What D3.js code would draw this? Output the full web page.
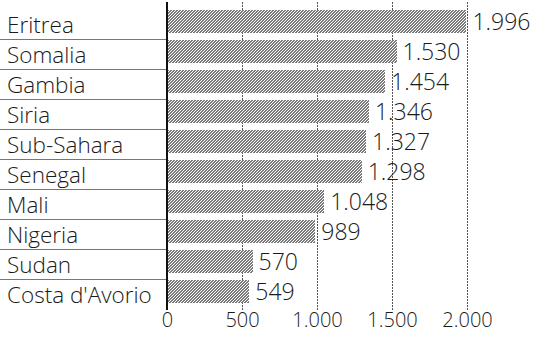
<!DOCTYPE html>
<html>
<head>
<meta charset="utf-8">
<script src="https://cdn.jsdelivr.net/npm/d3@7"></script>
<style>
  html, body { margin: 0; padding: 0; background: #fff; }
  svg { display: block; }
  text { font-family: "Open Sans", sans-serif; font-weight: 300; fill: #1a1a1a; }
</style>
</head>
<body>
<svg id="chart" width="534" height="337"></svg>
<script>
// Countries and values
const categories = ["Eritrea", "Somalia", "Gambia", "Siria", "Sub-Sahara", "Senegal", "Mali", "Nigeria", "Sudan", "Costa d'Avorio"];
const values = [1996, 1530, 1454, 1346, 1327, 1298, 1048, 989, 570, 549];
const tickValues = [0, 500, 1000, 1500, 2000];

const svg = d3.select("#chart");

// Italian number format (dot as thousands separator)
const it = d3.formatLocale({ decimal: ",", thousands: ".", grouping: [3], currency: ["€", ""] });
const fmt = it.format(",d");

const x = d3.scaleLinear().domain([0, 2000]).range([167, 467]);
const y = d3.scaleBand().domain(categories).range([6, 307.2]).paddingInner(0.22).paddingOuter(0).round(true);

// Fine pixel-diagonal hatch for the bars (3x3 tile, 2-pixel band)
const defs = svg.append("defs");
const pat = defs.append("pattern")
  .attr("id", "hatch").attr("patternUnits", "userSpaceOnUse")
  .attr("width", 3).attr("height", 3);
pat.append("rect").attr("width", 3).attr("height", 3).attr("fill", "#fff");
const cells = [];
for (let r = 0; r < 3; r++) for (let c = 0; c < 3; c++) if (((c + r) % 3) !== 2) cells.push([c, r]);
pat.selectAll("rect.px").data(cells).join("rect")
  .attr("class", "px")
  .attr("x", d => d[0]).attr("y", d => d[1])
  .attr("width", 1).attr("height", 1)
  .attr("fill", "#7a7a7a")
  .attr("shape-rendering", "crispEdges");

// Vertical gridlines
svg.append("g").selectAll("line")
  .data(tickValues.filter(d => d > 0))
  .join("line")
  .attr("x1", d => Math.round(x(d)) + 0.5).attr("x2", d => Math.round(x(d)) + 0.5)
  .attr("y1", 2).attr("y2", 310)
  .attr("stroke", "#555").attr("stroke-width", 1)
  .attr("stroke-dasharray", "2,1");

// Row separators under the category labels
svg.append("g").selectAll("line")
  .data(categories.slice(1))
  .join("line")
  .attr("x1", 0).attr("x2", 166)
  .attr("y1", d => y(d) - 0.5).attr("y2", d => y(d) - 0.5)
  .attr("stroke", "#777").attr("stroke-width", 1);

// Bars
svg.append("g").selectAll("rect")
  .data(categories)
  .join("rect")
  .attr("x", x(0))
  .attr("y", d => y(d))
  .attr("width", (d, i) => Math.round(x(values[i]) - x(0)))
  .attr("height", y.bandwidth())
  .attr("fill", "url(#hatch)")
  .attr("shape-rendering", "crispEdges");

// Zero axis
svg.append("line")
  .attr("x1", x(0)).attr("x2", x(0))
  .attr("y1", 2).attr("y2", 310)
  .attr("stroke", "#111").attr("stroke-width", 2);

// Category labels
svg.append("g").selectAll("text")
  .data(categories)
  .join("text")
  .attr("x", 7)
  .attr("y", d => y(d) + 23)
  .attr("font-size", 22.5)
  .text(d => d);

// Value labels
svg.append("g").selectAll("text")
  .data(categories)
  .join("text")
  .attr("x", (d, i) => x(values[i]) + 6)
  .attr("y", d => y(d) + y.bandwidth() / 2 + 8)
  .attr("font-size", 23)
  .text((d, i) => fmt(values[i]));

// Bottom axis labels
const axis = d3.axisBottom(x).tickValues(tickValues).tickSize(0).tickPadding(0).tickFormat(fmt);
const gAxis = svg.append("g").attr("transform", "translate(0,313)").call(axis);
gAxis.select(".domain").remove();
gAxis.selectAll("text")
  .attr("font-size", 20)
  .attr("font-family", "Open Sans, sans-serif")
  .attr("font-weight", 300)
  .attr("fill", "#1a1a1a");
</script>
</body>
</html>
